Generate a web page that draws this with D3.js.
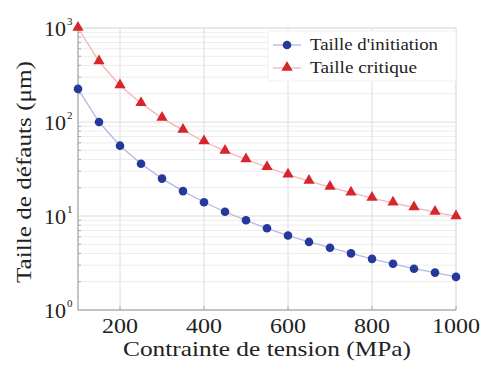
<!DOCTYPE html>
<html lang="fr">
<head>
<meta charset="UTF-8">
<script src="https://cdn.jsdelivr.net/npm/d3@7/dist/d3.min.js"></script>
<style>
  body { margin: 0; background: #fff; }
</style>
</head>
<body>
<div id="chart"></div>
<script>
// values
const stress = [100, 150, 200, 250, 300, 350, 400, 450, 500, 550, 600, 650, 700, 750, 800, 850, 900, 950, 1000];
const initSize = [225, 100, 56, 36, 25, 18.4, 14, 11.1, 9, 7.4, 6.2, 5.3, 4.6, 4, 3.5, 3.1, 2.75, 2.5, 2.25];
const critSize = [1000, 440, 245, 158, 110, 82, 62, 49, 40, 33, 27.5, 23.5, 20.3, 17.7, 15.5, 13.8, 12.3, 11, 9.9];
const xTicks = [200, 400, 600, 800, 1000];
const yExp = [0, 1, 2, 3];
const legendNames = ["Taille d'initiation", "Taille critique"];

const FONT = "'Liberation Serif', 'Times New Roman', serif";
const W = 483, H = 365;
const margin = { top: 28, right: 27, bottom: 55, left: 78 };
const iw = W - margin.left - margin.right;
const ih = H - margin.top - margin.bottom;

const svg = d3.select("#chart").append("svg").attr("width", W).attr("height", H)
  .attr("font-family", FONT).style("font-family", FONT);
const g = svg.append("g").attr("transform", `translate(${margin.left},${margin.top})`);

const x = d3.scaleLinear().domain([100, 1000]).range([0, iw]);
const y = d3.scaleLog().domain([1, 1000]).range([ih, 0]);

// grid: minor log lines and major lines
const minor = [];
for (let e = 0; e < 3; e++) for (let k = 2; k <= 9; k++) minor.push(k * Math.pow(10, e));
g.selectAll(".minor").data(minor).enter().append("line")
  .attr("x1", 0).attr("x2", iw).attr("y1", d => y(d)).attr("y2", d => y(d))
  .attr("stroke", "#ededed").attr("stroke-width", 1);
g.selectAll(".hmaj").data(yExp).enter().append("line")
  .attr("x1", 0).attr("x2", iw).attr("y1", d => y(Math.pow(10, d))).attr("y2", d => y(Math.pow(10, d)))
  .attr("stroke", "#dcdcdc").attr("stroke-width", 1);
g.selectAll(".vmaj").data(xTicks).enter().append("line")
  .attr("x1", d => x(d)).attr("x2", d => x(d)).attr("y1", 0).attr("y2", ih)
  .attr("stroke", "#dcdcdc").attr("stroke-width", 1);

// box
g.append("rect").attr("width", iw).attr("height", ih)
  .attr("fill", "none").attr("stroke", "#e4e4e4");
g.append("line").attr("x1", 0).attr("x2", 0).attr("y1", 0).attr("y2", ih).attr("stroke", "#9a9a9a");
g.append("line").attr("x1", 0).attr("x2", iw).attr("y1", ih).attr("y2", ih).attr("stroke", "#9a9a9a");

// minor tick marks on y
g.selectAll(".mt").data(minor).enter().append("line")
  .attr("x1", 0).attr("x2", 3).attr("y1", d => y(d)).attr("y2", d => y(d)).attr("stroke", "#aaa");
g.selectAll(".xt").data(xTicks).enter().append("line")
  .attr("x1", d => x(d)).attr("x2", d => x(d)).attr("y1", ih).attr("y2", ih - 4).attr("stroke", "#aaa");

// tick labels
g.selectAll(".xl").data(xTicks).enter().append("text")
  .attr("x", d => x(d)).attr("y", ih + 23).attr("text-anchor", "middle")
  .attr("font-size", 20).attr("fill", "#222")
  .attr("textLength", d => String(d).length * 12).attr("lengthAdjust", "spacingAndGlyphs")
  .text(d => d);
const yl = g.selectAll(".yl").data(yExp).enter().append("text")
  .attr("x", -34).attr("y", d => y(Math.pow(10, d)) + 8)
  .attr("font-size", 21).attr("fill", "#222");
yl.append("tspan").attr("textLength", 22).attr("lengthAdjust", "spacingAndGlyphs").text("10");
yl.append("tspan").attr("dx", 1).attr("dy", -11).attr("font-size", 11).text(d => d);

// axis titles
svg.append("text").attr("x", 267).attr("y", 356).attr("text-anchor", "middle")
  .attr("font-size", 21).attr("fill", "#222")
  .attr("textLength", 288).attr("lengthAdjust", "spacingAndGlyphs")
  .text("Contrainte de tension (MPa)");
svg.append("text").attr("transform", "translate(31,172) rotate(-90)")
  .attr("text-anchor", "middle").attr("font-size", 21).attr("fill", "#222")
  .attr("textLength", 222).attr("lengthAdjust", "spacingAndGlyphs")
  .text("Taille de défauts (μm)");

// series
const line = v => d3.line().x((d, i) => x(stress[i])).y(d => y(d))(v);
g.append("path").attr("d", line(initSize)).attr("fill", "none").attr("stroke", "#b6b8e0").attr("stroke-width", 1.3);
g.append("path").attr("d", line(critSize)).attr("fill", "none").attr("stroke", "#f2b6b6").attr("stroke-width", 1.3);

g.selectAll(".pt").data(initSize).enter().append("circle")
  .attr("cx", (d, i) => x(stress[i])).attr("cy", d => y(d)).attr("r", 4.3).attr("fill", "#25399a");
const tri = d3.symbol().type(d3.symbolTriangle).size(55);
g.selectAll(".tr").data(critSize).enter().append("path")
  .attr("d", tri).attr("transform", (d, i) => `translate(${x(stress[i])},${y(d) - 0.5})`).attr("fill", "#d7262b");

// legend
const lg = svg.append("g").attr("transform", "translate(268,31)");
lg.append("rect").attr("x", 0).attr("y", 0).attr("width", iw + margin.left - 268).attr("height", 50)
  .attr("fill", "#fff").attr("stroke", "#f0f0f0");
lg.append("line").attr("x1", 5).attr("x2", 33).attr("y1", 14).attr("y2", 14).attr("stroke", "#b6b8e0").attr("stroke-width", 1.3);
lg.append("circle").attr("cx", 19).attr("cy", 14).attr("r", 4.3).attr("fill", "#25399a");
lg.append("line").attr("x1", 5).attr("x2", 33).attr("y1", 37).attr("y2", 37).attr("stroke", "#f2b6b6").attr("stroke-width", 1.3);
lg.append("path").attr("d", tri).attr("transform", "translate(19,36.5)").attr("fill", "#d7262b");
const legendW = [128, 107];
lg.selectAll(".lt").data(legendNames).enter().append("text")
  .attr("x", 42).attr("y", (d, i) => 19 + i * 23).attr("font-size", 17).attr("fill", "#222")
  .attr("textLength", (d, i) => legendW[i]).attr("lengthAdjust", "spacingAndGlyphs")
  .text(d => d);
</script>
</body>
</html>
